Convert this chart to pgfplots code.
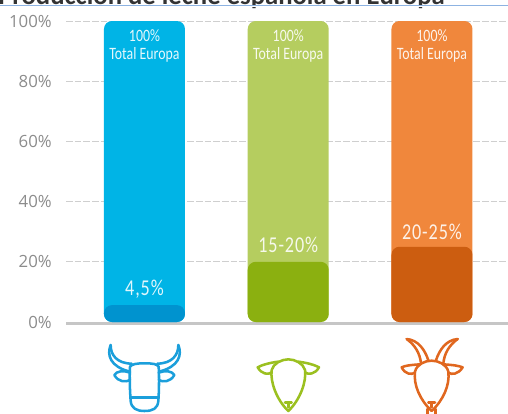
\documentclass[border=0pt]{standalone}
\usepackage{pgfplots}
\pgfplotsset{compat=1.18}
\usepackage{fontspec}
\setmainfont{Carlito}
\newfontfamily\labfont{Open Sans}
\newfontfamily\condfont[FakeStretch=0.8]{Carlito}
\definecolor{cA}{HTML}{00B4E6}\definecolor{cAd}{HTML}{0093CF}
\definecolor{cB}{HTML}{B5CD5F}\definecolor{cBd}{HTML}{8BB010}
\definecolor{cC}{HTML}{F0873C}\definecolor{cCd}{HTML}{CC5D10}
\definecolor{tickc}{HTML}{8C8C8C}\definecolor{gridc}{HTML}{CFCFCF}
\definecolor{basec}{HTML}{C6C6C6}\definecolor{topline}{HTML}{8DB3E2}
\definecolor{icA}{HTML}{1B9FDB}\definecolor{icB}{HTML}{9BC020}\definecolor{icC}{HTML}{E0671F}
\begin{document}
\begin{tikzpicture}
\useasboundingbox (0pt,0pt) rectangle (381pt,-310.5pt);
\node[anchor=base west,inner sep=0,font=\bfseries\fontsize{20}{20}\selectfont,text=black!80] at (-1.5pt,-3pt) {Producción de leche española en Europa};
\fill[white] (0pt,-4pt) rectangle (381pt,-5.5pt);
\draw[topline,line width=1.1pt] (0pt,-4.2pt) -- (381pt,-4.2pt);
\begin{axis}[
  at={(49.5pt,-241.5pt)},anchor=south west,scale only axis,
  width=331.5pt,height=225.75pt,
  xmin=-0.546,xmax=2.529,ymin=0,ymax=100,
  clip=false,
  axis line style={draw=none},
  ytick={0,20,40,60,80,100},
  yticklabel={\pgfmathprintnumber{\tick}\%},
  xtick=\empty,
  tick style={draw=none},major tick length=0pt,
  ymajorgrids,
  grid style={gridc,dash pattern=on 5pt off 1.5pt,line width=0.6pt},
  /pgf/number format/assume math mode=true,
  yticklabel style={font=\labfont\fontsize{12.6}{12.6}\selectfont,text=tickc,inner sep=0pt,xshift=-10.5pt},
]
\addplot[draw=basec,line width=2.2pt,forget plot] coordinates {(-0.546,-0.5) (2.529,-0.5)};
\addplot[ybar,bar width=60.75pt,bar shift=0pt,fill=cA,draw=none,rounded corners=6pt] coordinates {(0,100)};
\addplot[ybar,bar width=60.75pt,bar shift=0pt,fill=cB,draw=none,rounded corners=6pt] coordinates {(1,100)};
\addplot[ybar,bar width=60.75pt,bar shift=0pt,fill=cC,draw=none,rounded corners=6pt] coordinates {(2,100)};
\addplot[ybar,bar width=60.75pt,bar shift=0pt,fill=cAd,draw=none,rounded corners=6pt] coordinates {(0,5.6)};
\addplot[ybar,bar width=60.75pt,bar shift=0pt,fill=cBd,draw=none,rounded corners=6pt] coordinates {(1,20)};
\addplot[ybar,bar width=60.75pt,bar shift=0pt,fill=cCd,draw=none,rounded corners=6pt] coordinates {(2,25)};
\node[text=white!90!cA,align=center,font=\condfont\fontsize{13}{13.5}\selectfont] at (axis cs:0,91.7) {100\%\\Total Europa};
\node[text=white!90!cB,align=center,font=\condfont\fontsize{13}{13.5}\selectfont] at (axis cs:1,91.7) {100\%\\Total Europa};
\node[text=white!90!cC,align=center,font=\condfont\fontsize{13}{13.5}\selectfont] at (axis cs:2,91.7) {100\%\\Total Europa};
\node[text=white!88!cA,font=\condfont\addfontfeature{LetterSpace=4}\fontsize{17}{17}\selectfont] at (axis cs:0,10.8) {4,5\%};
\node[text=white!88!cB,font=\condfont\addfontfeature{LetterSpace=4}\fontsize{17}{17}\selectfont] at (axis cs:1,25.5) {15-20\%};
\node[text=white!88!cC,font=\condfont\addfontfeature{LetterSpace=4}\fontsize{17}{17}\selectfont] at (axis cs:2,30) {20-25\%};
\end{axis}
% icons, in coordinates of a 3x crop
\begin{scope}[shift={(67.5pt,-243.75pt)},x=0.25pt,y=-0.25pt,line width=1.9pt,line cap=round,line join=round]
% cow
\begin{scope}[draw=icA]
\draw (120,125) .. controls (118,160) and (120,200) .. (122,228) .. controls (124,250) and (140,258) .. (163,258) .. controls (190,258) and (203,250) .. (205,228) .. controls (207,200) and (208,160) .. (206,125) .. controls (200,117) and (190,115) .. (163,115) .. controls (140,115) and (126,117) .. (120,125);
\draw (123,218) -- (204,218);
\draw (62,60) .. controls (62,90) and (80,115) .. (125,116);
\draw (62,60) .. controls (50,90) and (60,125) .. (120,140);
\draw (265,60) .. controls (265,90) and (247,115) .. (202,116);
\draw (265,60) .. controls (277,90) and (267,125) .. (207,140);
\draw (120,143) .. controls (100,135) and (80,138) .. (73,150) .. controls (85,172) and (108,172) .. (120,165);
\draw (206,143) .. controls (226,135) and (246,138) .. (253,150) .. controls (241,172) and (218,172) .. (206,165);
\end{scope}
% sheep
\begin{scope}[draw=icB]
\draw (545,135) .. controls (540,170) and (560,225) .. (595,258) .. controls (630,225) and (650,170) .. (645,135) .. controls (640,115) and (615,103) .. (595,103) .. controls (575,103) and (550,115) .. (545,135);
\draw (565,110) .. controls (540,113) and (515,120) .. (503,127) .. controls (515,148) and (535,150) .. (545,142);
\draw (625,110) .. controls (650,113) and (675,120) .. (687,127) .. controls (675,148) and (655,150) .. (645,142);
\draw (585,233) -- (605,233) (595,233) -- (595,247);
\end{scope}
% goat
\begin{scope}[draw=icC]
\draw (975,140) .. controls (970,180) and (990,225) .. (1025,258) .. controls (1060,225) and (1080,180) .. (1075,140) .. controls (1070,118) and (1045,107) .. (1025,107) .. controls (1005,107) and (980,118) .. (975,140);
\draw (990,118) .. controls (960,120) and (945,122) .. (935,127) .. controls (945,148) and (965,150) .. (975,143);
\draw (1060,118) .. controls (1090,120) and (1105,122) .. (1118,127) .. controls (1105,148) and (1085,150) .. (1075,143);
\draw (950,42) .. controls (975,60) and (990,85) .. (993,115);
\draw (950,42) .. controls (985,45) and (1005,75) .. (1015,106);
\draw (1103,42) .. controls (1078,60) and (1063,85) .. (1060,115);
\draw (1103,42) .. controls (1068,45) and (1048,75) .. (1038,106);
\draw (1015,233) -- (1035,233) (1025,233) -- (1025,247);
\draw (1013,252) -- (1013,268) (1037,252) -- (1037,268);
\end{scope}
\end{scope}
\end{tikzpicture}
\end{document}
